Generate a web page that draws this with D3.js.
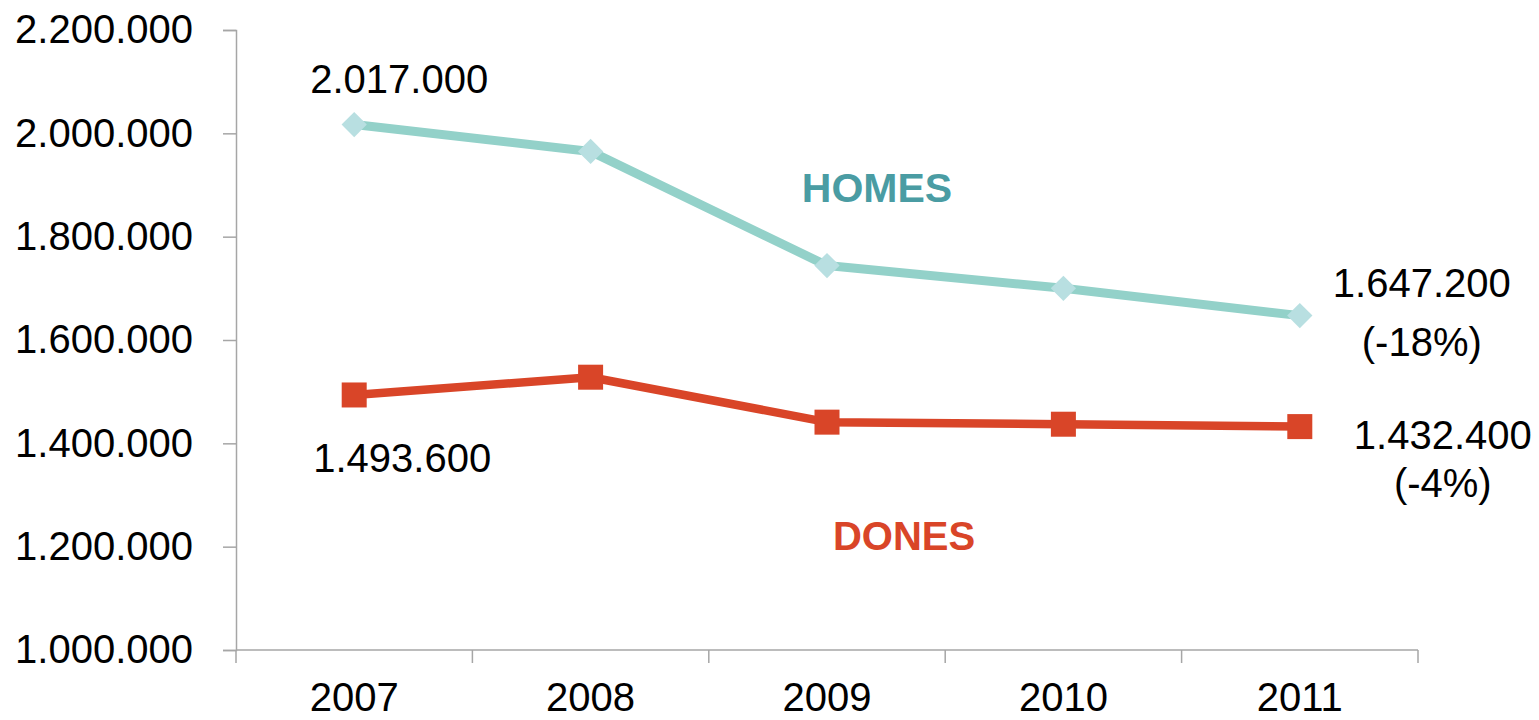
<!DOCTYPE html>
<html>
<head>
<meta charset="utf-8">
<script src="https://cdn.jsdelivr.net/npm/d3@7"></script>
<style>
  html, body { margin: 0; padding: 0; background: #fff; }
  svg { display: block; font-family: "Liberation Sans", Arial, sans-serif; }
</style>
</head>
<body>
<div id="chart"></div>
<script>
/* data */
const years = ['2007', '2008', '2009', '2010', '2011'];
const homes = [2017000, 1965000, 1744000, 1700000, 1647200];
const dones = [1493600, 1528000, 1441000, 1437000, 1432400];
const yTicks = [1000000, 1200000, 1400000, 1600000, 1800000, 2000000, 2200000];
const endNotes = { homes: ['1.647.200', '(-18%)'], dones: ['1.432.400', '(-4%)'] };

const W = 1539, H = 720;
const AXIS = '#a6a6a6';
const C_HOMES = '#93d1c9', C_HOMES_PT = '#b8dfe1', C_HOMES_TXT = '#4a9ca3';
const C_DONES = '#d94528';

const fmt = v => d3.format(',')(v).replace(/,/g, '.');

const svg = d3.select('#chart').append('svg')
  .attr('width', W).attr('height', H).attr('viewBox', `0 0 ${W} ${H}`);

const x = d3.scaleBand().domain(years).range([236, 1418]);
const y = d3.scaleLinear().domain([1000000, 2200000]).range([650, 30]);
const cx = d => x(d) + x.bandwidth() / 2;

/* y axis */
const gy = svg.append('g').attr('transform', 'translate(236,0)')
  .call(d3.axisLeft(y).tickValues(yTicks).tickFormat(fmt).tickSize(13).tickPadding(30));
gy.select('.domain').attr('stroke', AXIS).attr('stroke-width', 1.5);
gy.selectAll('.tick line').attr('stroke', AXIS).attr('stroke-width', 1.5);
gy.selectAll('.tick text').attr('font-size', 40).attr('fill', '#000')
  .attr('font-family', '"Liberation Sans", Arial, sans-serif');

/* x axis: labels at band centres, ticks at band edges */
const gx = svg.append('g').attr('transform', 'translate(0,650)')
  .call(d3.axisBottom(x).tickSize(0).tickPadding(0));
gx.select('.domain').attr('stroke', AXIS).attr('stroke-width', 1.5)
  .attr('d', `M${x.range()[0]},0H${x.range()[1]}`);
gx.selectAll('.tick text').attr('font-size', 40).attr('fill', '#000')
  .attr('font-family', '"Liberation Sans", Arial, sans-serif')
  .attr('y', 61).attr('dy', 0);
const edges = years.map(d => x(d)).concat([x(years[years.length - 1]) + x.bandwidth()]);
gx.selectAll('.edge').data(edges).join('line').attr('class', 'edge')
  .attr('x1', d => d).attr('x2', d => d).attr('y1', 0).attr('y2', 13)
  .attr('stroke', AXIS).attr('stroke-width', 1.5);

/* lines */
const line = d3.line().x((d, i) => cx(years[i])).y(d => y(d));

svg.append('path').datum(homes)
  .attr('fill', 'none').attr('stroke', C_HOMES).attr('stroke-width', 9)
  .attr('stroke-linejoin', 'round').attr('d', line);
svg.append('path').datum(dones)
  .attr('fill', 'none').attr('stroke', C_DONES).attr('stroke-width', 8.5)
  .attr('stroke-linejoin', 'round').attr('d', line);

/* markers */
const dia = d3.symbol().type(d3.symbolSquare).size(320);
svg.selectAll('.pt-homes').data(homes).join('path').attr('class', 'pt-homes')
  .attr('d', dia)
  .attr('transform', (d, i) => `translate(${cx(years[i])},${y(d)}) rotate(45)`)
  .attr('fill', C_HOMES_PT);

svg.selectAll('.pt-dones').data(dones).join('rect').attr('class', 'pt-dones')
  .attr('x', (d, i) => cx(years[i]) - 12.5).attr('y', d => y(d) - 12.5)
  .attr('width', 25).attr('height', 25).attr('fill', C_DONES);

/* value labels */
const lbl = (tx, ty, txt, anchor) => svg.append('text')
  .attr('x', tx).attr('y', ty).attr('text-anchor', anchor || 'start')
  .attr('font-size', 40).attr('fill', '#000').text(txt);

lbl(cx(years[0]) - 44, y(homes[0]) - 32, fmt(homes[0]));
lbl(cx(years[0]) - 41, y(dones[0]) + 77, fmt(dones[0]));

const last = years.length - 1;
lbl(cx(years[last]) + 122, y(homes[last]) - 19, endNotes.homes[0], 'middle');
lbl(cx(years[last]) + 122, y(homes[last]) + 40, endNotes.homes[1], 'middle');
lbl(cx(years[last]) + 143, y(dones[last]) + 22, endNotes.dones[0], 'middle');
lbl(cx(years[last]) + 143, y(dones[last]) + 70, endNotes.dones[1], 'middle');

/* series names */
svg.append('text')
  .attr('x', cx('2009') + 50).attr('y', y(homes[2]) - 64)
  .attr('text-anchor', 'middle').attr('font-size', 41).attr('font-weight', 'bold')
  .attr('fill', C_HOMES_TXT).text('HOMES');
svg.append('text')
  .attr('x', cx('2009') + 77).attr('y', y(dones[2]) + 128)
  .attr('text-anchor', 'middle').attr('font-size', 40).attr('font-weight', 'bold')
  .attr('fill', C_DONES).text('DONES');
</script>
</body>
</html>
